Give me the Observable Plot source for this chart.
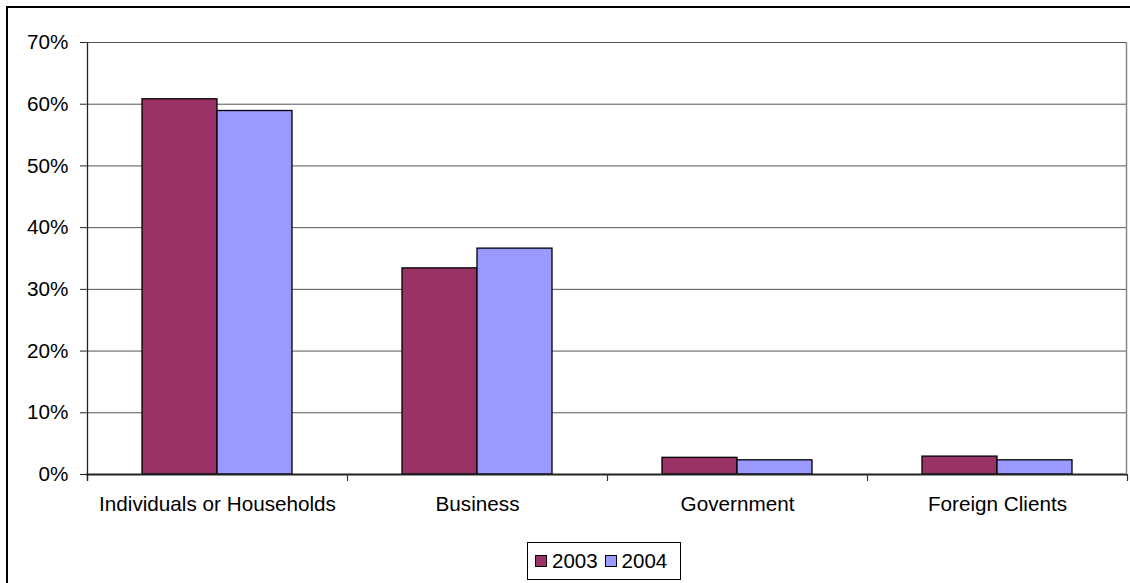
<!DOCTYPE html>
<html>
<head>
<meta charset="utf-8">
<script src="https://cdn.jsdelivr.net/npm/d3@7"></script>
<script src="https://cdn.jsdelivr.net/npm/@observablehq/plot@0.6"></script>
<style>
  html, body { margin: 0; padding: 0; background: #fff; overflow: hidden; }
  #wrap { position: relative; width: 1130px; height: 583px; overflow: hidden; font-family: "Liberation Sans", Arial, sans-serif; }
  #border { position: absolute; left: 6px; top: 6px; width: 1300px; height: 800px; border: 2px solid #000; box-sizing: border-box; pointer-events: none; }
  #chart { position: absolute; left: 0; top: 0; }
  #legend { position: absolute; left: 527px; top: 542px; width: 154px; height: 38px; border: 1px solid #000; box-sizing: border-box; background: #fff;
            display: flex; align-items: center; font-size: 20.5px; color: #000; padding-left: 7px; }
  .item { display: flex; align-items: center; margin-right: 7px; }
  .sw { width: 12px; height: 12px; border: 1px solid #000; box-sizing: border-box; margin-right: 5px; }
</style>
</head>
<body>
<div id="wrap">
  <div id="chart"></div>
  <div id="border"></div>
  <div id="legend"></div>
</div>
<script>
const categories = ["Individuals or Households", "Business", "Government", "Foreign Clients"];
const years = ["2003", "2004"];
const values2003 = [60.8, 33.4, 2.7, 2.9];
const values2004 = [58.9, 36.6, 2.3, 2.3];
const yTicks = [0, 10, 20, 30, 40, 50, 60, 70];
const colors = ["#993366", "#9999FF"];

const rows2003 = categories.map((c, i) => ({category: c, year: years[0], value: values2003[i]}));
const rows2004 = categories.map((c, i) => ({category: c, year: years[1], value: values2004[i]}));

const fontFamily = '"Liberation Sans", Arial, sans-serif';
const fs = 20.7;

// boundary tick marks along the category axis, plus right edge of plot area and the y axis line
function frameLines(index, scales, values, dims) {
  const x = scales.x;
  const y = scales.y;
  const n = categories.length;
  const bw = typeof x.bandwidth === "function" ? x.bandwidth() : (dims.width - dims.marginLeft - dims.marginRight) / n;
  const y0 = y(0);
  const g = d3.create("svg:g");
  const xs = categories.map(c => x(c));
  xs.push(x(categories[n - 1]) + bw);
  for (const px of xs) {
    g.append("line")
      .attr("x1", Math.round(px) + 0.5).attr("x2", Math.round(px) + 0.5)
      .attr("y1", y0).attr("y2", y0 + 7)
      .attr("stroke", "#333").attr("stroke-width", 1.2);
  }
  const xr = Math.round(xs[n]) - 0.5;
  g.append("line").attr("x1", xr).attr("x2", xr).attr("y1", y(70)).attr("y2", y0)
    .attr("stroke", "#888").attr("stroke-width", 1.5);
  const xl = Math.round(xs[0]) + 0.5;
  g.append("line").attr("x1", xl).attr("x2", xl).attr("y1", y(70)).attr("y2", y0 + 7)
    .attr("stroke", "#222").attr("stroke-width", 1.3);
  return g.node();
}

const chart = Plot.plot({
  width: 1130,
  height: 583,
  marginLeft: 86,
  marginRight: 3,
  marginTop: 42,
  marginBottom: 109,
  style: {fontFamily, fontSize: fs + "px", color: "#000", background: "transparent"},
  x: {domain: categories, padding: 0, axis: null},
  y: {domain: [0, 70], axis: null},
  marks: [
    Plot.ruleY(yTicks.filter(d => d > 0), {stroke: "#555", strokeWidth: 1}),
    Plot.barY(rows2003, {x: "category", y: "value", fill: colors[0], stroke: "#000", strokeWidth: 1.3, insetLeft: 55, insetRight: 130}),
    Plot.barY(rows2004, {x: "category", y: "value", fill: colors[1], stroke: "#000", strokeWidth: 1.3, insetLeft: 130, insetRight: 55}),
    Plot.ruleY([0], {stroke: "#222", strokeWidth: 2}),
    Plot.axisY({ticks: yTicks, tickFormat: d => d + "%", tickSize: 6, tickPadding: 12, stroke: "#222", fontSize: fs, label: null}),
    Plot.axisX({tickSize: 0, tickPadding: 22, fontSize: fs, anchor: "bottom", label: null}),
    frameLines
  ]
});

document.getElementById("chart").appendChild(chart);

const legend = document.getElementById("legend");
years.forEach((yr, i) => {
  const item = document.createElement("div");
  item.className = "item";
  const sw = document.createElement("div");
  sw.className = "sw";
  sw.style.background = colors[i];
  const t = document.createElement("span");
  t.textContent = yr;
  item.appendChild(sw);
  item.appendChild(t);
  legend.appendChild(item);
});
</script>
</body>
</html>
